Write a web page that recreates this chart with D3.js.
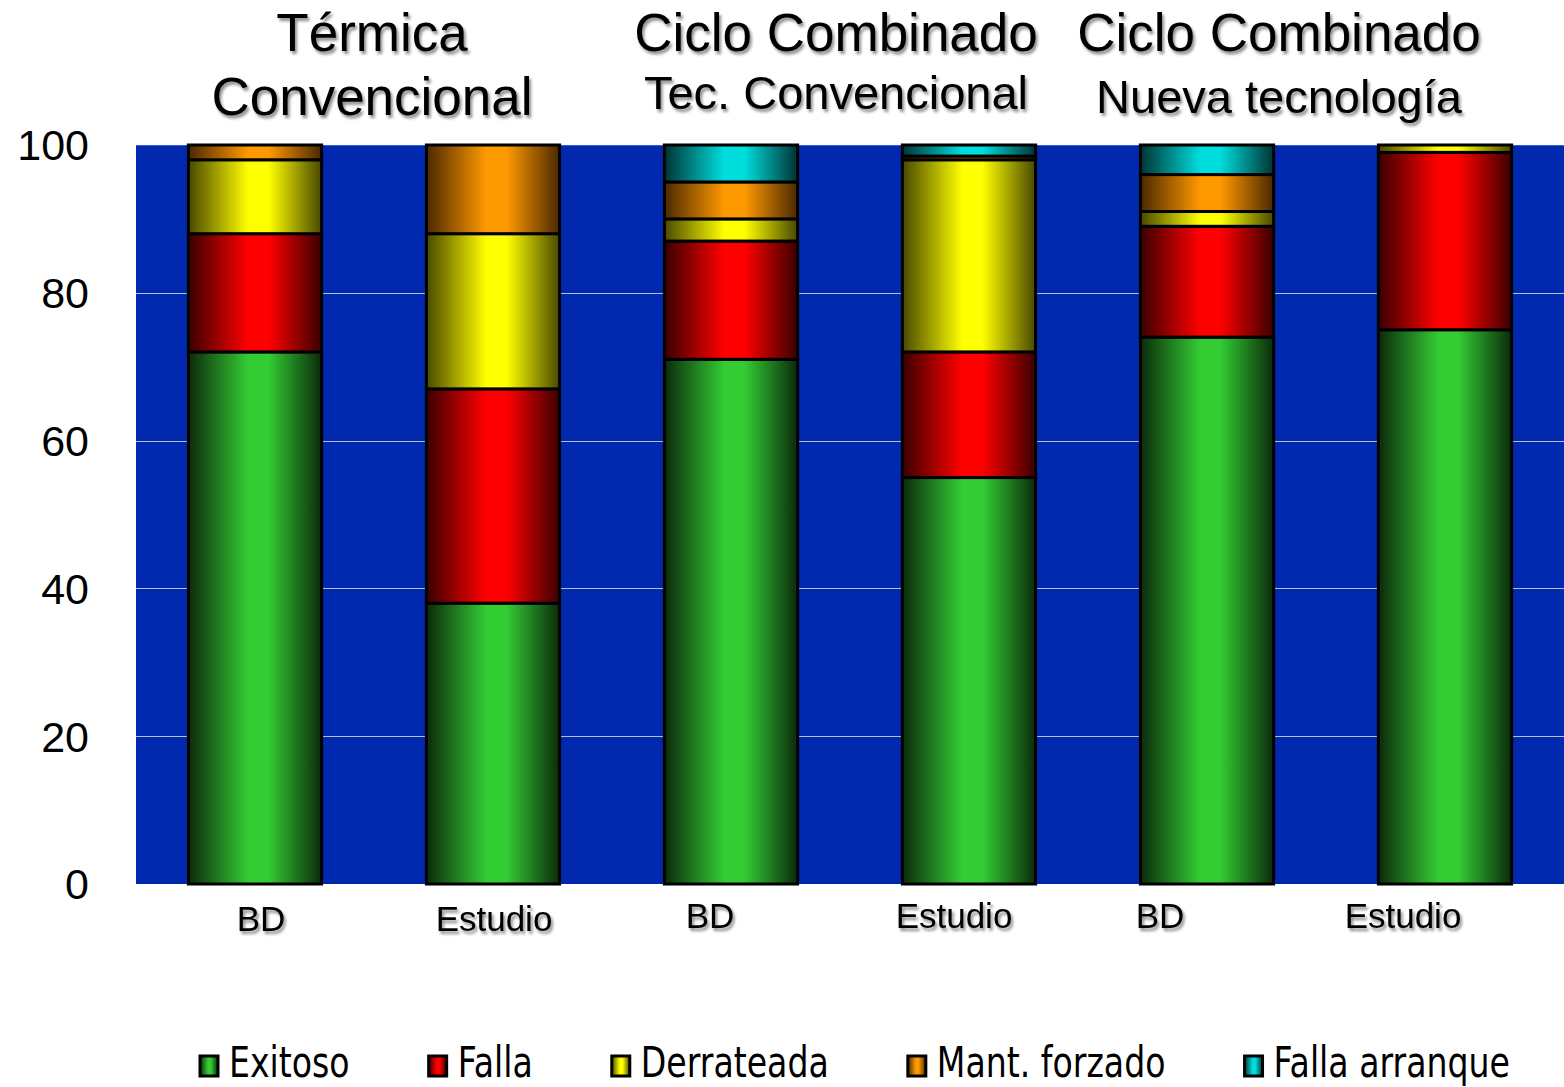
<!DOCTYPE html>
<html>
<head>
<meta charset="utf-8">
<script src="https://cdn.jsdelivr.net/npm/d3@7"></script>
<style>
  body { margin: 0; background: #fff; }
  svg { display: block; }
</style>
</head>
<body>
<div id="chart"></div>
<script>
let width = 1564,
    height = 1087;

// data
const bars = ["BD", "Estudio", "BD", "Estudio", "BD", "Estudio"];
const groupTitles = [
  ["Térmica", "Convencional"],
  ["Ciclo Combinado", "Tec. Convencional"],
  ["Ciclo Combinado", "Nueva tecnología"]
];
const seriesNames = ["Exitoso", "Falla", "Derrateada", "Mant. forzado", "Falla arranque"];
const exitoso       = [72, 38, 71, 55, 74, 75];
const falla         = [16, 29, 16, 17, 15, 24];
const derrateada    = [10, 21, 3, 26, 2, 1];
const mantForzado   = [2, 12, 5, 0.5, 5, 0];
const fallaArranque = [0, 0, 5, 1.5, 4, 0];
const yTicks = [0, 20, 40, 60, 80, 100];

const colors = {
  "Exitoso":        ["#0b2a0b", "#33cc33"],
  "Falla":          ["#3a0000", "#ff0000"],
  "Derrateada":     ["#484800", "#ffff00"],
  "Mant. forzado":  ["#4a2800", "#ff9900"],
  "Falla arranque": ["#003333", "#00dddd"]
};

const table = bars.map((b, i) => ({
  idx: i,
  "Exitoso": exitoso[i],
  "Falla": falla[i],
  "Derrateada": derrateada[i],
  "Mant. forzado": mantForzado[i],
  "Falla arranque": fallaArranque[i]
}));

const margin = { left: 136, right: 0, top: 145, bottom: 203 };
const font = "'Liberation Sans', Arial, sans-serif";

const svg = d3.select("#chart").append("svg")
    .attr("width", width)
    .attr("height", height);

const defs = svg.append("defs");
seriesNames.forEach((s, i) => {
  const g = defs.append("linearGradient")
      .attr("id", "grad" + i)
      .attr("x1", "0%").attr("x2", "100%").attr("y1", "0%").attr("y2", "0%");
  g.append("stop").attr("offset", "0%").attr("stop-color", colors[s][0]);
  g.append("stop").attr("offset", "45%").attr("stop-color", colors[s][1]);
  g.append("stop").attr("offset", "60%").attr("stop-color", colors[s][1]);
  g.append("stop").attr("offset", "100%").attr("stop-color", colors[s][0]);
});
const shadow = defs.append("filter").attr("id", "shadow")
    .attr("x", "-10%").attr("y", "-10%").attr("width", "130%").attr("height", "140%");
shadow.append("feDropShadow")
    .attr("dx", 2).attr("dy", 3).attr("stdDeviation", 1.5)
    .attr("flood-color", "#000").attr("flood-opacity", 0.45);

const x = d3.scaleBand()
    .domain(d3.range(bars.length))
    .range([margin.left, width - margin.right])
    .paddingInner(0.44)
    .paddingOuter(0.22);

const y = d3.scaleLinear()
    .domain([0, 100])
    .range([height - margin.bottom, margin.top]);

// plot background
svg.append("rect")
    .attr("x", margin.left)
    .attr("y", y(100))
    .attr("width", width - margin.right - margin.left)
    .attr("height", y(0) - y(100))
    .attr("fill", "#0029b0");

svg.append("line")
    .attr("x1", margin.left).attr("x2", width)
    .attr("y1", y(100) + 0.5).attr("y2", y(100) + 0.5)
    .attr("stroke", "#3a5cd0").attr("stroke-width", 1);

// grid lines
svg.selectAll(".grid")
    .data(yTicks.filter(d => d > 0 && d < 100))
    .enter().append("line")
    .attr("class", "grid")
    .attr("x1", margin.left).attr("x2", width - margin.right)
    .attr("y1", d => Math.round(y(d)) + 0.5)
    .attr("y2", d => Math.round(y(d)) + 0.5)
    .attr("stroke", "#b8c0d8")
    .attr("stroke-width", 1);

// y axis labels
svg.selectAll(".ytick")
    .data(yTicks)
    .enter().append("text")
    .attr("class", "ytick")
    .attr("x", 89)
    .attr("y", d => y(d))
    .attr("dy", "0.36em")
    .attr("text-anchor", "end")
    .attr("font-family", font)
    .attr("font-size", 43)
    .attr("fill", "#000")
    .text(d => d);

// stacked bars
const stack = d3.stack().keys(seriesNames);
const layers = stack(table);

const layer = svg.selectAll(".layer")
    .data(layers)
    .enter().append("g")
    .attr("class", "layer")
    .attr("fill", (d, i) => "url(#grad" + i + ")");

layer.selectAll("rect")
    .data(d => d.filter(p => p[1] - p[0] > 0))
    .enter().append("rect")
    .attr("x", d => x(d.data.idx))
    .attr("y", d => y(d[1]))
    .attr("width", x.bandwidth())
    .attr("height", d => y(d[0]) - y(d[1]))
    .attr("stroke", "#000")
    .attr("stroke-width", 3);

// x labels (each panel of the original was placed a bit differently)
const labelShift = [6, 1, -21, -15, -47, -42];
svg.selectAll(".xlabel")
    .data(bars)
    .enter().append("text")
    .attr("class", "xlabel")
    .attr("x", (d, i) => x(i) + x.bandwidth() / 2 + labelShift[i])
    .attr("y", (d, i) => i < 2 ? 931 : 928)
    .attr("text-anchor", "middle")
    .attr("font-family", font)
    .attr("font-size", 35)
    .attr("fill", "#000")
    .attr("filter", "url(#shadow)")
    .text(d => d);

// group titles
const titleX = [372, 836, 1279];
groupTitles.forEach((t, i) => {
  svg.append("text")
      .attr("x", titleX[i])
      .attr("y", 51)
      .attr("text-anchor", "middle")
      .attr("font-family", font)
      .attr("font-size", 53)
      .attr("fill", "#000")
      .attr("filter", "url(#shadow)")
      .text(t[0]);
  svg.append("text")
      .attr("x", titleX[i])
      .attr("y", i === 0 ? 115 : (i === 1 ? 109 : 113))
      .attr("text-anchor", "middle")
      .attr("font-family", font)
      .attr("font-size", i === 0 ? 53 : 47)
      .attr("fill", "#000")
      .attr("filter", "url(#shadow)")
      .text(t[1]);
});

// legend
let lx = 200;
const sx = 0.79;
const legend = svg.append("g").attr("class", "legend");
seriesNames.forEach((s, i) => {
  legend.append("rect")
      .attr("x", lx)
      .attr("y", 1056)
      .attr("width", 18)
      .attr("height", 20)
      .attr("fill", "url(#grad" + i + ")")
      .attr("stroke", "#000")
      .attr("stroke-width", 3);
  const t = legend.append("text")
      .attr("transform", "translate(" + (lx + 29) + ",1077) scale(" + sx + ",1)")
      .attr("font-family", "'DejaVu Sans', Verdana, sans-serif")
      .attr("font-size", 42)
      .attr("fill", "#000")
      .text(s);
  const w = t.node().getComputedTextLength() * sx;
  lx += 29 + w + 79;
});
</script>
</body>
</html>
